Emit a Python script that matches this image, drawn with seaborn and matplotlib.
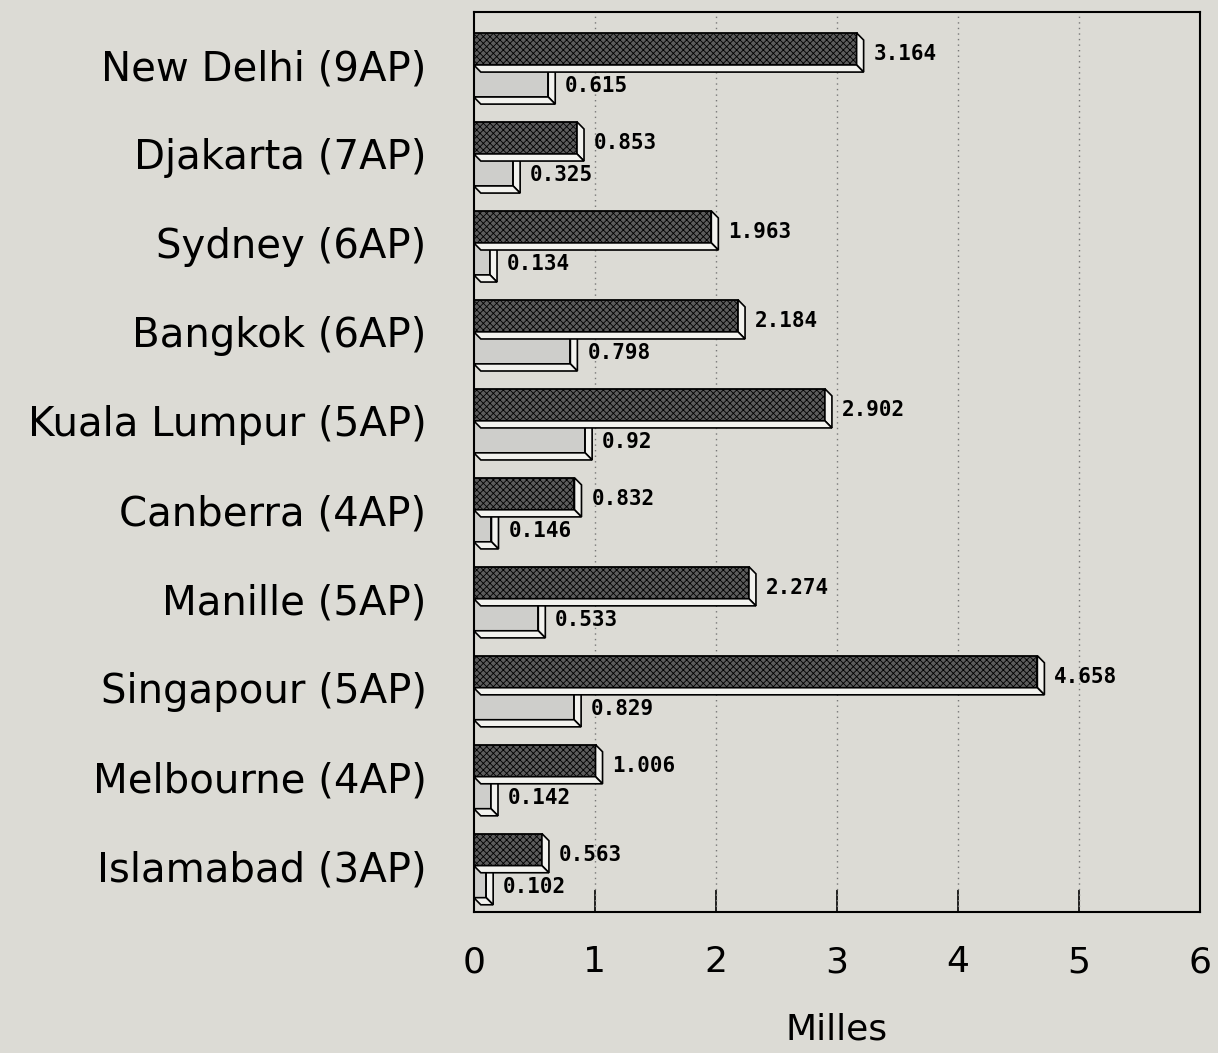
import pandas as pd
import matplotlib.pyplot as plt
import seaborn as sns
from matplotlib.patches import Polygon

# Données (en milliers de milles)
villes = ["New Delhi (9AP)", "Djakarta (7AP)", "Sydney (6AP)", "Bangkok (6AP)",
          "Kuala Lumpur (5AP)", "Canberra (4AP)", "Manille (5AP)",
          "Singapour (5AP)", "Melbourne (4AP)", "Islamabad (3AP)"]
serie_fonce = [3.164, 0.853, 1.963, 2.184, 2.902, 0.832, 2.274, 4.658, 1.006, 0.563]
serie_clair = [0.615, 0.325, 0.134, 0.798, 0.92, 0.146, 0.533, 0.829, 0.142, 0.102]
graduations = [0, 1, 2, 3, 4, 5, 6]

FOND = "#dcdbd5"

df = pd.DataFrame({
    "ville": villes * 2,
    "valeur": serie_fonce + serie_clair,
    "serie": ["A"] * len(villes) + ["B"] * len(villes),
})

sns.set_theme(style="white")
plt.rcParams["font.family"] = ["DejaVu Sans"]
plt.rcParams["text.color"] = "black"
plt.rcParams["xtick.color"] = "black"
plt.rcParams["ytick.color"] = "black"
plt.rcParams["axes.labelcolor"] = "black"
plt.rcParams["hatch.linewidth"] = 0.6

fig = plt.figure(figsize=(12.18, 10.53), dpi=100, facecolor=FOND)
ax = fig.add_axes([0.389, 0.134, 0.596, 0.855], facecolor=FOND)

sns.barplot(data=df, x="valeur", y="ville", hue="serie", orient="h",
            palette=["#5c5c5c", "#cfcfca"], width=0.72, edgecolor="black",
            linewidth=1.3, legend=False, ax=ax)

# effet 3D : faces droite et inférieure
dx, dy = 0.058, 0.08
for i, cont in enumerate(ax.containers):
    z = 2 + 2 * (1 - i)
    for bar in cont:
        bar.set_zorder(z)
        if i == 0:
            bar.set_hatch("xxxxx")
        x0, y0 = bar.get_x(), bar.get_y()
        w, h = bar.get_width(), bar.get_height()
        droite = [(x0 + w, y0), (x0 + w + dx, y0 + dy), (x0 + w + dx, y0 + h + dy), (x0 + w, y0 + h)]
        bas = [(x0, y0 + h), (x0 + w, y0 + h), (x0 + w + dx, y0 + h + dy), (x0 + dx, y0 + h + dy)]
        for pts in (droite, bas):
            ax.add_patch(Polygon(pts, closed=True, facecolor="#f2f2ee",
                                 edgecolor="black", linewidth=1.2, zorder=z + 0.5))

# étiquettes de valeurs
for cont, valeurs in zip(ax.containers, [serie_fonce, serie_clair]):
    for bar, v in zip(cont, valeurs):
        ax.text(v + 0.14, bar.get_y() + bar.get_height() / 2 + 0.06, f"{v:g}",
                fontsize=15, fontweight="bold", family="DejaVu Sans Mono",
                va="center", ha="left", zorder=6)

ax.set_xlim(0, 6)
ax.set_ylim(9.52, -0.6)
ax.set_xticks(graduations)
ax.set_xticklabels([str(g) for g in graduations], fontsize=26)
ax.tick_params(axis="x", direction="in", length=16, width=1.2, pad=24, bottom=True)
ax.tick_params(axis="y", length=0, pad=34, labelsize=29)
for g in graduations[1:-1]:
    ax.axvline(g, color="#777777", linewidth=1, linestyle=(0, (1, 3)), zorder=1)

ax.set_xlabel("Milles", fontsize=26, labelpad=24)
ax.set_ylabel("")
for s in ax.spines.values():
    s.set_color("black")
    s.set_linewidth(1.5)

fig.savefig("out.png", dpi=100, facecolor=FOND)
